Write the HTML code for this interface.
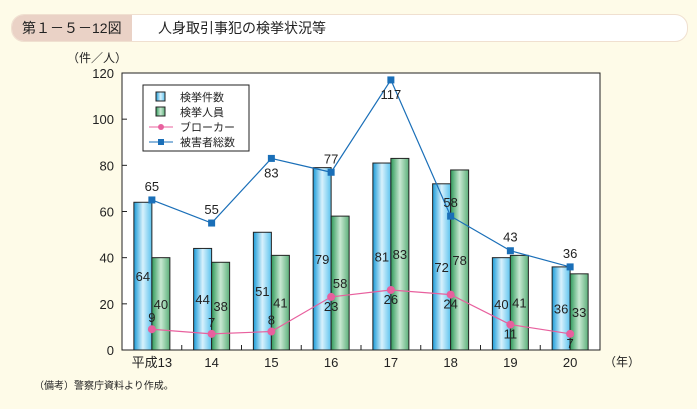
<!DOCTYPE html>
<html><head><meta charset="utf-8"><style>
body{margin:0;width:697px;height:409px;background:#fefbe8;font-family:"Liberation Sans","Noto Sans CJK JP",sans-serif;overflow:hidden;position:relative}
#title{position:absolute;left:11px;top:14px;width:675px;height:26px;border-radius:13px;background:#fff;border:1px solid #f0e0d0;overflow:hidden}
#tnum{position:absolute;left:0;top:0;width:120px;height:26px;background:#ead2c6;font-size:14px;line-height:26px;padding-left:10px;box-sizing:border-box;color:#222}
#ttxt{position:absolute;left:146px;top:0;font-size:14px;line-height:26px;color:#222}
</style></head><body>
<div id="title"><div id="tnum">第１－５－12図</div><div id="ttxt">人身取引事犯の検挙状況等</div></div>
<svg id="chart" width="697" height="409" style="position:absolute;left:0;top:0">
<defs>
<linearGradient id="gb" x1="0" x2="1"><stop offset="0" stop-color="#1a9bd8"/><stop offset="0.5" stop-color="#d8f1fc"/><stop offset="1" stop-color="#5cc3ee"/></linearGradient>
<linearGradient id="gg" x1="0" x2="1"><stop offset="0" stop-color="#2f9a5a"/><stop offset="0.5" stop-color="#c8e8d2"/><stop offset="1" stop-color="#5cb07a"/></linearGradient>
</defs>
<rect x="122" y="73" width="478" height="277" fill="#fff" stroke="#222"/>
<g id="axes"></g><g id="bars"></g><g id="lines"></g>
<text x="67" y="62" font-size="12" fill="#222">（件／人）</text>
<text x="604" y="366" font-size="12" fill="#222">（年）</text>
<text x="34" y="389" font-size="10" fill="#222">（備考）警察庁資料より作成。</text>
<g>
<rect x="143" y="85" width="106" height="66" fill="#fff" stroke="#222"/>
<rect x="156" y="92" width="9" height="9" fill="url(#gb)" stroke="#222"/>
<text x="180" y="101" font-size="11" fill="#222">検挙件数</text>
<rect x="156" y="107" width="9" height="9" fill="url(#gg)" stroke="#222"/>
<text x="180" y="116" font-size="11" fill="#222">検挙人員</text>
<line x1="149" y1="127" x2="173" y2="127" stroke="#e8609e"/><circle cx="161" cy="127" r="3" fill="#e8609e"/>
<text x="180" y="131" font-size="11" fill="#222">ブローカー</text>
<line x1="149" y1="142" x2="173" y2="142" stroke="#1a6fb8"/><rect x="158" y="139" width="6" height="6" fill="#1a6fb8"/>
<text x="180" y="146" font-size="11" fill="#222">被害者総数</text>
</g>
</svg>
<script>
const categories=["平成13","14","15","16","17","18","19","20"];
const cases=[64,44,51,79,81,72,40,36];
const persons=[40,38,41,58,83,78,41,33];
const brokers=[9,7,8,23,26,24,11,7];
const victims=[65,55,83,77,117,58,43,36];
const yTicks=[0,20,40,60,80,100,120];
const NS="http://www.w3.org/2000/svg";
const L=122,R=600,T=73,B=350,yMax=120;
const step=(R-L)/categories.length;
const xc=i=>L+step*(i+0.5);
const y=v=>B-(B-T)*v/yMax;
function mk(tag,attrs,parent,txt){const e=document.createElementNS(NS,tag);for(const k in attrs)e.setAttribute(k,attrs[k]);if(txt!==undefined)e.textContent=txt;document.getElementById(parent).appendChild(e);return e;}
yTicks.forEach(t=>{
  const l=mk('line',{x1:L,x2:L+5,y1:y(t),y2:y(t),stroke:'#222'},'axes');
  
  
  const tx=mk('text',{x:L-8,y:y(t)+5,'text-anchor':'end','font-size':13,fill:'#222'},'axes',t);
  
  
});
categories.forEach((c,i)=>{
  if(i>0){const l=mk('line',{x1:L+step*i,x2:L+step*i,y1:B,y2:B-5,stroke:'#222'},'axes');
  
  }
  const tx=mk('text',{x:xc(i),y:B+17,'text-anchor':'middle','font-size':13,fill:'#222'},'axes',c);
  
  
  const bw=18;
  const b1=mk('rect',{x:xc(i)-bw,y:y(cases[i]),width:bw,height:B-y(cases[i]),fill:'url(#gb)',stroke:'#222'},'bars');
  
  
  const b2=mk('rect',{x:xc(i),y:y(persons[i]),width:bw,height:B-y(persons[i]),fill:'url(#gg)',stroke:'#222'},'bars');
  
  
  const t1=mk('text',{x:xc(i)-bw/2,y:y(cases[i]/2)+5,'text-anchor':'middle','font-size':13,fill:'#222'},'bars',cases[i]);
  
  
  const t2=mk('text',{x:xc(i)+bw/2,y:y(persons[i]/2)+5,'text-anchor':'middle','font-size':13,fill:'#222'},'bars',persons[i]);
  
  
});
const pb=mk('polyline',{points:brokers.map((v,i)=>xc(i)+','+y(v)).join(' '),fill:'none',stroke:'#e8609e','stroke-width':1.2},'lines');


const pv=mk('polyline',{points:victims.map((v,i)=>xc(i)+','+y(v)).join(' '),fill:'none',stroke:'#1a6fb8','stroke-width':1.2},'lines');


brokers.forEach((v,i)=>{
  const c=mk('circle',{cx:xc(i),cy:y(v),r:4,fill:'#e8609e'},'lines');
  
  
  const t=mk('text',{x:xc(i),y:i>=3?y(v)+14:y(v)-7,'text-anchor':'middle','font-size':13,fill:'#222'},'lines',v);
  
  
});
victims.forEach((v,i)=>{
  const r=mk('rect',{x:xc(i)-3.5,y:y(v)-3.5,width:7,height:7,fill:'#1a6fb8'},'lines');
  
  
  const below=(i==2||i==4);
  const t=mk('text',{x:xc(i),y:below?y(v)+19:y(v)-9,'text-anchor':'middle','font-size':13,fill:'#222'},'lines',v);
  
  
});
</script>
</body></html>
